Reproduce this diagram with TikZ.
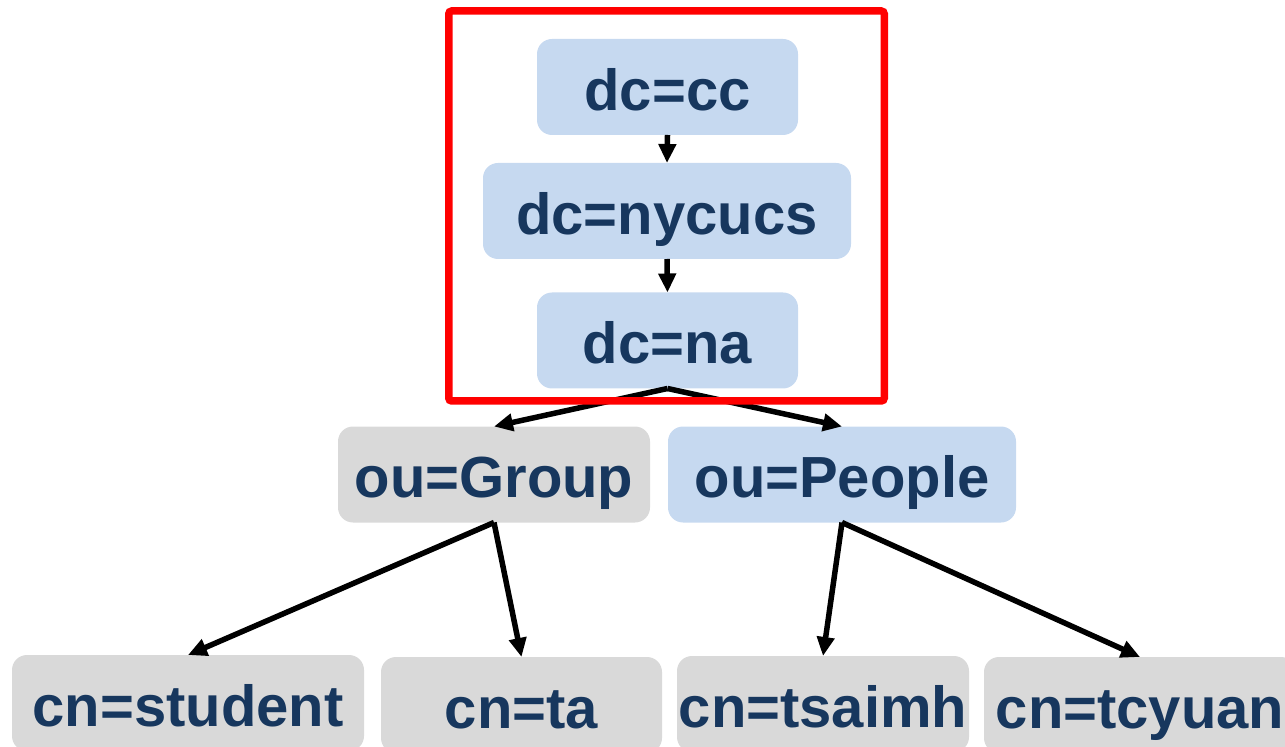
\documentclass[tikz,border=0pt]{standalone}
\usepackage{xcolor}
\usepackage{fontspec}
\setmainfont{Liberation Sans}
\usepackage{tikz}
\usetikzlibrary{arrows.meta}

\definecolor{TextBlue}{HTML}{17375E}
\definecolor{BoxBlue}{HTML}{C6D9F0}
\definecolor{BoxGrey}{HTML}{D9D9D9}
\definecolor{FrameRed}{HTML}{FF0000}

\begin{document}
\begin{tikzpicture}
        \useasboundingbox (0,0) rectangle (25.7,14.92);
        \tikzstyle{BoxStyle} = [rounded corners=0.3cm, inner sep=0pt, outer sep=0pt,
            minimum height=1.92cm, text=TextBlue,
            font=\fontsize{33}{40}\selectfont\bfseries,
            text height=33pt, text depth=6.6pt]
        \tikzstyle{BlueBox} = [BoxStyle, fill=BoxBlue]
        \tikzstyle{GreyBox} = [BoxStyle, fill=BoxGrey]
        \tikzstyle{EdgeStyle} = [line width=0.11cm, -{Triangle[length=0.38cm, width=0.34cm]}]
        \tikzstyle{FrameStyle} = [draw=FrameRed, line width=0.15cm, rounded corners=0.06cm,
            inner sep=0pt, outer sep=0pt]
        % dc chain
        \node[BlueBox, minimum width=5.22cm] (CC) at (13.35,13.18) {dc=cc};
        \node[BlueBox, minimum width=7.36cm] (NYCUCS) at (13.34,10.70) {dc=nycucs};
        \node[BlueBox, minimum width=5.22cm] (NA) at (13.35,8.11) {dc=na};
        % ou level
        \node[GreyBox, minimum width=6.24cm] (Group) at (9.88,5.43) {ou=Group};
        \node[BlueBox, minimum width=6.96cm] (People) at (16.84,5.43) {ou=People};
        % cn level
        \node[GreyBox, minimum width=7.04cm] (Student) at (3.76,0.86) {cn=student};
        \node[GreyBox, minimum width=5.62cm] (TA) at (10.43,0.82) {cn=ta};
        \node[GreyBox, minimum width=5.84cm] (Tsaimh) at (16.46,0.84) {cn=tsaimh};
        \node[GreyBox, minimum width=6.24cm] (Tcyuan) at (22.80,0.82) {cn=tcyuan};
        % edges
        \draw[EdgeStyle] (CC.south) -- (NYCUCS.north);
        \draw[EdgeStyle] (NYCUCS.south) -- (NA.north);
        \draw[EdgeStyle] (NA.south) -- (Group.north);
        \draw[EdgeStyle] (NA.south) -- (People.north);
        \draw[EdgeStyle] (Group.south) -- (Student.north);
        \draw[EdgeStyle] (Group.south) -- (TA.north);
        \draw[EdgeStyle] (People.south) -- (Tsaimh.north);
        \draw[EdgeStyle] (People.south) -- (Tcyuan.north);
        % red frame
        \node[FrameStyle, minimum width=8.71cm, minimum height=7.80cm] (Frame) at (13.33,10.80) {};
    \end{tikzpicture}
\end{document}
